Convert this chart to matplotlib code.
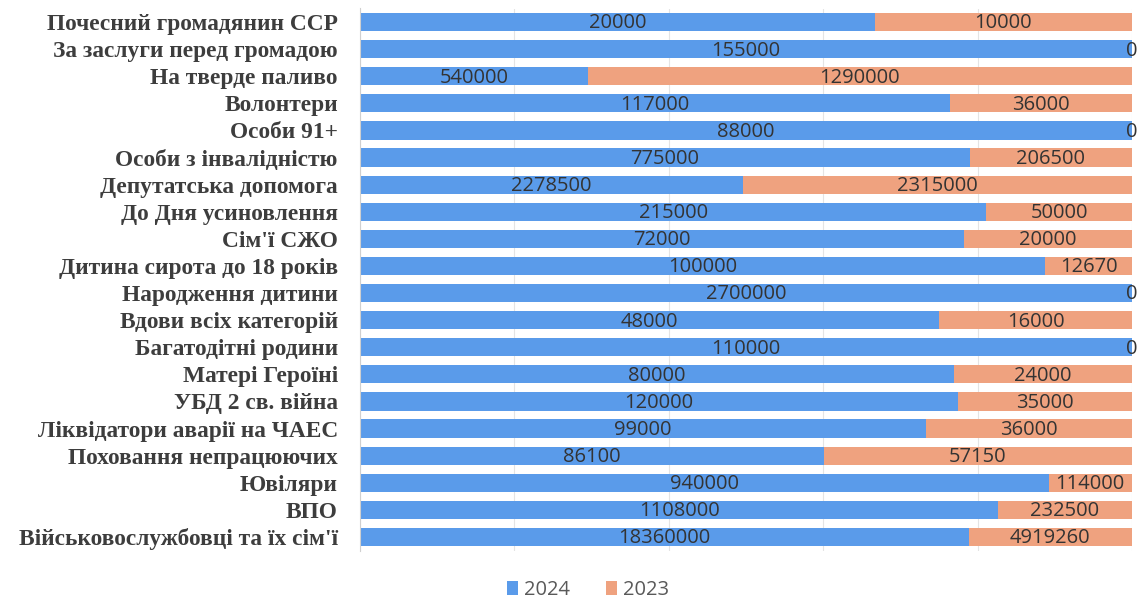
import matplotlib
matplotlib.use("Agg")
import matplotlib.pyplot as plt
import numpy as np

categories = [
    "Почесний громадянин ССР",
    "За заслуги перед громадою",
    "На тверде паливо",
    "Волонтери",
    "Особи 91+",
    "Особи з інвалідністю",
    "Депутатська допомога",
    "До Дня усиновлення",
    "Сім'ї СЖО",
    "Дитина сирота до 18 років",
    "Народження дитини",
    "Вдови всіх категорій",
    "Багатодітні родини",
    "Матері Героїні",
    "УБД 2 св. війна",
    "Ліквідатори аварії на ЧАЕС",
    "Поховання непрацюючих",
    "Ювіляри",
    "ВПО",
    "Військовослужбовці та їх сім'ї",
]
values_2024 = [20000, 155000, 540000, 117000, 88000, 775000, 2278500, 215000, 72000,
               100000, 2700000, 48000, 110000, 80000, 120000, 99000, 86100, 940000,
               1108000, 18360000]
values_2023 = [10000, 0, 1290000, 36000, 0, 206500, 2315000, 50000, 20000,
               12670, 0, 16000, 0, 24000, 35000, 36000, 57150, 114000,
               232500, 4919260]
series_names = ["2024", "2023"]

BLUE = "#5A9BEA"
ORANGE = "#EFA27F"

fig = plt.figure(figsize=(11.44, 6.04), dpi=100)
ax = fig.add_axes([360/1144, 1-550.5/604, (1132-360)/1144, (550.5-8.5)/604])

v24 = np.array(values_2024, dtype=float)
v23 = np.array(values_2023, dtype=float)
tot = v24 + v23
s24 = v24 / tot
s23 = v23 / tot
y = np.arange(len(categories))

ax.barh(y, s24, height=0.67, color=BLUE, label=series_names[0], zorder=2)
ax.barh(y, s23, left=s24, height=0.67, color=ORANGE, label=series_names[1], zorder=2)

lab_font = dict(family=["Open Sans", "DejaVu Sans"], fontsize=14.5, color="#333333",
                ha="center", va="center", zorder=3)
for i in range(len(categories)):
    ax.text(s24[i] / 2, y[i] + 0.05, f"{int(v24[i])}", **lab_font)
    ax.text(s24[i] + s23[i] / 2, y[i] + 0.05, f"{int(v23[i])}", clip_on=False, **lab_font)

ax.set_xlim(0, 1)
ax.set_ylim(len(categories) - 0.5, -0.5)
ax.set_yticks(y)
ax.set_yticklabels(categories, fontfamily="Liberation Serif", fontweight="bold",
                   fontsize=16.8, color="#3d3d3d")
ax.tick_params(axis="y", length=0, pad=16)
ax.set_xticks(np.arange(0, 1.01, 0.2))
ax.tick_params(axis="x", length=0, labelbottom=False)
ax.grid(axis="x", color="#e4e4e4", linewidth=0.8, zorder=0)
for s in ["top", "right", "bottom"]:
    ax.spines[s].set_visible(False)
ax.spines["left"].set_color("#d0d0d0")

fig.legend(loc="center", bbox_to_anchor=(588/1144, 1-590/604), ncol=2, frameon=False,
           prop=dict(family="Open Sans", size=14.5), labelcolor="#595959",
           handlelength=0.55, handleheight=0.75, handletextpad=0.3, columnspacing=1.8)

fig.savefig("out.png", dpi=100)
